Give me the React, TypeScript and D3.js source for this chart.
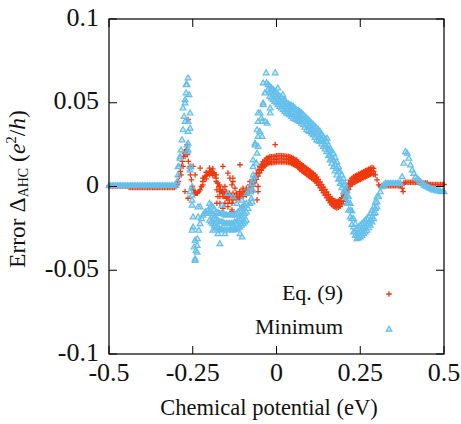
import React from "react";
import * as d3 from "d3";

// ---------- axes ----------
const xTicks = [-0.5, -0.25, 0, 0.25, 0.5];
const xTickLabels = ["-0.5", "-0.25", "0", "0.25", "0.5"];
const yTicks = [-0.1, -0.05, 0, 0.05, 0.1];
const yTickLabels = ["-0.1", "-0.05", "0", "0.05", "0.1"];
const seriesNames = ["Eq. (9)", "Minimum"];

// ---------- Eq. (9) series (red crosses) ----------
const eq9Main: [number, number][] = [
  [-0.5, 0.0004], [-0.495, 0.0004], [-0.49, 0.0004], [-0.485, 0.0004], [-0.48, 0.0004], [-0.475, 0.0004], [-0.47, 0.0004], [-0.465, 0.0004],
  [-0.46, 0.0004], [-0.455, 0.0004], [-0.45, 0.0004], [-0.445, 0.0004], [-0.44, -0.0006], [-0.435, -0.0006], [-0.43, -0.0006], [-0.425, -0.0006],
  [-0.42, -0.0006], [-0.415, -0.0006], [-0.41, -0.0006], [-0.405, -0.0006], [-0.4, -0.0006], [-0.395, -0.0006], [-0.39, -0.0006], [-0.385, -0.0006],
  [-0.38, -0.0006], [-0.375, -0.0006], [-0.37, -0.0006], [-0.365, -0.0006], [-0.36, -0.0006], [-0.355, -0.0006], [-0.35, -0.0006], [-0.345, -0.0006],
  [-0.34, -0.0006], [-0.335, -0.0006], [-0.33, -0.0006], [-0.325, -0.0006], [-0.32, -0.0006], [-0.315, -0.0006], [-0.31, -0.0006], [-0.305, -0.0005],
  [-0.3, 0], [-0.296, 0.001], [-0.293, 0.003], [-0.29, 0.006], [-0.287, 0.009], [-0.284, 0.012], [-0.281, 0.015], [-0.278, 0.018],
  [-0.275, 0.02], [-0.272, 0.021], [-0.269, 0.022], [-0.266, 0.019], [-0.263, 0.015], [-0.26, 0.011], [-0.257, 0.007], [-0.254, 0.004],
  [-0.251, 0.0], [-0.248, -0.002], [-0.244, -0.004], [-0.24, -0.004], [-0.236, -0.004], [-0.232, -0.003], [-0.228, -0.002], [-0.224, 0],
  [-0.22, 0.003], [-0.216, 0.005], [-0.212, 0.006], [-0.208, 0.007], [-0.204, 0.008], [-0.2, 0.009], [-0.196, 0.009], [-0.192, 0.009],
  [-0.188, 0.008], [-0.184, 0.007], [-0.18, 0.005], [-0.176, 0.002], [-0.172, 0], [-0.168, -0.002], [-0.164, -0.003], [-0.16, -0.004],
  [-0.155, -0.005], [-0.15, -0.005], [-0.145, -0.006], [-0.14, -0.006], [-0.135, -0.006], [-0.13, -0.006], [-0.125, -0.006], [-0.12, -0.006],
  [-0.115, -0.006], [-0.11, -0.005], [-0.105, -0.005], [-0.1, -0.004], [-0.095, -0.004], [-0.09, -0.003], [-0.085, -0.002], [-0.08, -0.001],
  [-0.075, 0.001], [-0.07, 0.002], [-0.065, 0.004], [-0.06, 0.006], [-0.055, 0.008], [-0.05, 0.01], [-0.045, 0.012], [-0.04, 0.013],
  [-0.035, 0.014], [-0.03, 0.015], [-0.025, 0.015], [-0.02, 0.016], [-0.015, 0.016], [-0.01, 0.016], [-0.005, 0.016], [0, 0.0165],
  [0.005, 0.0165], [0.01, 0.0165], [0.015, 0.0165], [0.02, 0.0165], [0.025, 0.0165], [0.03, 0.0163], [0.035, 0.0162], [0.04, 0.016],
  [0.045, 0.0155], [0.05, 0.015], [0.055, 0.0145], [0.06, 0.014], [0.065, 0.013], [0.07, 0.012], [0.075, 0.011], [0.08, 0.0105],
  [0.085, 0.0095], [0.09, 0.009], [0.095, 0.008], [0.1, 0.0075], [0.105, 0.007], [0.11, 0.006], [0.115, 0.005], [0.12, 0.004],
  [0.125, 0.0025], [0.13, 0.001], [0.135, -0.0005], [0.14, -0.002], [0.145, -0.0035], [0.15, -0.005], [0.155, -0.0065], [0.16, -0.008],
  [0.165, -0.009], [0.17, -0.01], [0.175, -0.0105], [0.18, -0.011], [0.185, -0.0105], [0.19, -0.01], [0.195, -0.0085], [0.2, -0.007],
  [0.205, -0.0045], [0.21, -0.002], [0.215, 0], [0.22, 0.002], [0.225, 0.003], [0.23, 0.004], [0.235, 0.0045], [0.24, 0.005],
  [0.245, 0.0055], [0.25, 0.006], [0.255, 0.0065], [0.26, 0.007], [0.265, 0.0075], [0.27, 0.008], [0.275, 0.0085], [0.28, 0.009],
  [0.285, 0.0095], [0.29, 0.009], [0.295, 0.007], [0.3, 0.004], [0.305, 0.001], [0.31, 0], [0.315, 0.0005], [0.32, 0.0005],
  [0.325, 0.0005], [0.33, 0.0005], [0.335, 0.0005], [0.34, 0.0005], [0.345, 0.0005], [0.35, 0.0005], [0.355, 0.0005], [0.36, 0.0005],
  [0.365, 0.0005], [0.37, 0.0005], [0.375, 0.001], [0.38, 0.002], [0.385, 0.0025], [0.39, 0.0025], [0.395, 0.0025], [0.4, 0.0025],
  [0.405, 0.0025], [0.41, 0.0025], [0.415, 0.0025], [0.42, 0.0025], [0.425, 0.0025], [0.43, 0.0025], [0.435, 0.002], [0.44, 0.002],
  [0.445, 0.002], [0.45, 0.002], [0.455, 0.0012], [0.46, 0.0012], [0.465, 0.0012], [0.47, 0.0012], [0.475, 0.0012], [0.48, 0.0012],
  [0.485, 0.0012], [0.49, 0.0012], [0.495, 0.0012], [0.5, 0.0012],
];

const eq9Upper: [number, number][] = [
  [-0.22, 0.005], [-0.21, 0.0085], [-0.2, 0.011], [-0.19, 0.0105], [-0.18, 0.007], [-0.17, 0.001], [-0.16, -0.002], [-0.15, -0.003],
  [-0.14, -0.004], [-0.13, -0.004], [-0.12, -0.004], [-0.11, -0.003], [-0.1, -0.002], [-0.09, -0.001], [-0.08, 0.001],
  [-0.07, 0.0038], [-0.06, 0.0078], [-0.05, 0.0118], [-0.04, 0.0148], [-0.03, 0.0168], [-0.02, 0.0178], [-0.01, 0.0178], [0, 0.0183],
  [0.01, 0.0183], [0.02, 0.0183], [0.03, 0.0181], [0.04, 0.0178], [0.05, 0.0168], [0.06, 0.0158], [0.07, 0.0138], [0.08, 0.0123],
  [0.09, 0.0108], [0.1, 0.0093], [0.11, 0.0078], [0.12, 0.0058], [0.13, 0.0028], [0.14, -0.0002], [0.15, -0.0032], [0.16, -0.0062],
  [0.17, -0.0082], [0.18, -0.0092], [0.19, -0.0082], [0.2, -0.0052], [0.21, -0.0002], [0.22, 0.0038], [0.23, 0.0058], [0.24, 0.0068],
  [0.25, 0.0078], [0.26, 0.0088], [0.27, 0.0098], [0.28, 0.0108], [0.29, 0.0108],
  [-0.065, 0.0058], [-0.055, 0.0098], [-0.045, 0.0133], [-0.035, 0.0158], [-0.025, 0.0173], [-0.015, 0.0178], [-0.005, 0.018], [0.005, 0.0183],
  [0.015, 0.0183], [0.025, 0.0182], [0.035, 0.018], [0.045, 0.0173], [0.055, 0.0163], [0.065, 0.0148], [0.075, 0.013], [0.085, 0.0115],
  [0.095, 0.01], [0.105, 0.0085], [0.115, 0.0068], [0.125, 0.0043], [0.135, 0.0013], [0.145, -0.0017], [0.155, -0.0047], [0.165, -0.0072],
  [0.175, -0.0087], [0.185, -0.0087], [0.195, -0.0067], [0.205, -0.0027], [0.215, 0.0018], [0.225, 0.0048], [0.235, 0.0063], [0.245, 0.0073],
  [0.255, 0.0083], [0.265, 0.0093], [0.275, 0.0103], [0.285, 0.0113],
];
const eq9Lower: [number, number][] = [
  [-0.22, 0.001], [-0.21, 0.0045], [-0.2, 0.007], [-0.19, 0.0065], [-0.18, 0.003], [-0.17, -0.003], [-0.16, -0.006], [-0.15, -0.007],
  [-0.14, -0.008], [-0.13, -0.008], [-0.12, -0.008], [-0.11, -0.007], [-0.1, -0.006], [-0.09, -0.005], [-0.08, -0.003],
  [-0.07, 0.0002], [-0.06, 0.0042], [-0.05, 0.0082], [-0.04, 0.0112], [-0.03, 0.0132], [-0.02, 0.0142], [-0.01, 0.0142], [0, 0.0147],
  [0.01, 0.0147], [0.02, 0.0147], [0.03, 0.0145], [0.04, 0.0142], [0.05, 0.0132], [0.06, 0.0122], [0.07, 0.0102], [0.08, 0.0087],
  [0.09, 0.0072], [0.1, 0.0057], [0.11, 0.0042], [0.12, 0.0022], [0.13, -0.0008], [0.14, -0.0038], [0.15, -0.0068], [0.16, -0.0098],
  [0.17, -0.0118], [0.18, -0.0128], [0.19, -0.0118], [0.2, -0.0088], [0.21, -0.0038], [0.22, 0.0002], [0.23, 0.0022], [0.24, 0.0032],
  [0.25, 0.0042], [0.26, 0.0052], [0.27, 0.0062], [0.28, 0.0072], [0.29, 0.0072],
  [-0.065, 0.0022], [-0.055, 0.0062], [-0.045, 0.0097], [-0.035, 0.0122], [-0.025, 0.0137], [-0.015, 0.0142], [-0.005, 0.0144], [0.005, 0.0147],
  [0.015, 0.0147], [0.025, 0.0146], [0.035, 0.0144], [0.045, 0.0137], [0.055, 0.0127], [0.065, 0.0112], [0.075, 0.0094], [0.085, 0.0079],
  [0.095, 0.0064], [0.105, 0.0049], [0.115, 0.0032], [0.125, 0.0007], [0.135, -0.0023], [0.145, -0.0053], [0.155, -0.0083], [0.165, -0.0108],
  [0.175, -0.0123], [0.185, -0.0123], [0.195, -0.0103], [0.205, -0.0063], [0.215, -0.0018], [0.225, 0.0012], [0.235, 0.0027], [0.245, 0.0037],
  [0.255, 0.0047], [0.265, 0.0057], [0.275, 0.0067], [0.285, 0.0077],
];

const eq9Scatter: [number, number][] = [
  [-0.264, 0.04], [-0.267, 0.025], [-0.273, 0.018], [-0.279, 0.012], [-0.258, 0.012], [-0.249, 0.012], [-0.228, 0.011], [-0.16, 0.012],
  [-0.109, 0.013], [-0.139, 0.005], [-0.133, 0.001], [-0.169, -0.006], [-0.178, -0.01], [-0.145, -0.01], [-0.16, -0.013], [-0.133, -0.014],
  [-0.273, -0.003], [-0.264, -0.007], [-0.178, -0.002], [-0.175, -0.006], [-0.169, -0.01], [-0.103, -0.012], [-0.133, -0.01], [-0.145, -0.012],
  [-0.133, -0.015], [-0.154, -0.01], [-0.145, 0.008], [-0.13, 0.005], [-0.13, 0.003], [-0.154, 0.0], [-0.124, -0.001], [-0.1, -0.001],
  [-0.07, -0.003], [-0.055, 0.0], [-0.004, 0.025], [-0.055, -0.003], [-0.058, -0.008], [-0.079, 0.003], [0.378, -0.003], [0.375, -0.001],
  [-0.285, 0.007], [-0.243, 0.007],
];

// ---------- Minimum series (blue triangles) ----------
const minimumMain: [number, number][] = [
  [-0.5, 0.0006], [-0.495, 0.0006], [-0.49, 0.0006], [-0.485, 0.0006], [-0.48, 0.0006], [-0.475, 0.0006], [-0.47, 0.0006], [-0.465, 0.0006],
  [-0.46, 0.0006], [-0.455, 0.0006], [-0.45, 0.0006], [-0.445, 0.0006], [-0.44, 0.0006], [-0.435, 0.0006], [-0.43, 0.0006], [-0.425, 0.0006],
  [-0.42, 0.0006], [-0.415, 0.0006], [-0.41, 0.0006], [-0.405, 0.0006], [-0.4, 0.0006], [-0.395, 0.0006], [-0.39, 0.0006], [-0.385, 0.0006],
  [-0.38, 0.0006], [-0.375, 0.0006], [-0.37, 0.0006], [-0.365, 0.0006], [-0.36, 0.0006], [-0.355, 0.0006], [-0.35, 0.0006], [-0.345, 0.0006],
  [-0.34, 0.0006], [-0.335, 0.0006], [-0.33, 0.0006], [-0.325, 0.0006], [-0.32, 0.0006], [-0.315, 0.0006], [-0.31, 0.0006], [-0.305, 0.0006],
  [-0.3, 0.001], [-0.297, 0.003], [-0.294, 0.007], [-0.291, 0.012], [-0.288, 0.017], [-0.285, 0.022], [-0.282, 0.028], [-0.279, 0.034],
  [-0.276, 0.042], [-0.273, 0.05], [-0.27, 0.056], [-0.267, 0.061], [-0.264, 0.065], [-0.261, 0.055], [-0.258, 0.035], [-0.255, 0.012],
  [-0.252, -0.008], [-0.249, -0.024], [-0.246, -0.036], [-0.243, -0.043], [-0.24, -0.038], [-0.236, -0.031], [-0.232, -0.026], [-0.228, -0.022],
  [-0.224, -0.019], [-0.22, -0.017], [-0.215, -0.016], [-0.21, -0.015], [-0.205, -0.0145], [-0.2, -0.015], [-0.195, -0.016], [-0.19, -0.017],
  [-0.185, -0.018], [-0.18, -0.019], [-0.175, -0.02], [-0.17, -0.021], [-0.165, -0.021], [-0.16, -0.021], [-0.155, -0.022], [-0.15, -0.022],
  [-0.145, -0.022], [-0.14, -0.022], [-0.135, -0.022], [-0.13, -0.022], [-0.125, -0.021], [-0.12, -0.021], [-0.115, -0.02], [-0.11, -0.019],
  [-0.105, -0.018], [-0.1, -0.017], [-0.095, -0.016], [-0.09, -0.015], [-0.085, -0.013], [-0.08, -0.01], [-0.075, -0.007], [-0.07, -0.002],
  [-0.065, 0.006], [-0.06, 0.014], [-0.055, 0.024], [-0.05, 0.033], [-0.045, 0.041], [-0.04, 0.049], [-0.035, 0.056], [-0.03, 0.062],
  [-0.025, 0.058], [-0.02, 0.057], [-0.015, 0.056], [-0.01, 0.055], [-0.005, 0.054], [0, 0.053], [0.005, 0.052], [0.01, 0.051],
  [0.015, 0.05], [0.02, 0.049], [0.025, 0.048], [0.03, 0.047], [0.035, 0.0465], [0.04, 0.046], [0.045, 0.045], [0.05, 0.0445],
  [0.055, 0.0435], [0.06, 0.043], [0.065, 0.0425], [0.07, 0.042], [0.075, 0.041], [0.08, 0.04], [0.085, 0.039], [0.09, 0.0375],
  [0.095, 0.0365], [0.1, 0.036], [0.105, 0.035], [0.11, 0.034], [0.115, 0.0325], [0.12, 0.0315], [0.125, 0.031], [0.13, 0.03],
  [0.135, 0.028], [0.14, 0.027], [0.145, 0.025], [0.15, 0.024], [0.155, 0.022], [0.16, 0.019], [0.165, 0.017], [0.17, 0.016],
  [0.175, 0.013], [0.18, 0.011], [0.185, 0.009], [0.19, 0.005], [0.195, 0.003], [0.2, 0.001], [0.205, -0.003], [0.21, -0.006],
  [0.215, -0.01], [0.22, -0.014], [0.225, -0.019], [0.23, -0.024], [0.235, -0.027], [0.24, -0.029], [0.245, -0.028], [0.25, -0.027],
  [0.255, -0.026], [0.26, -0.025], [0.265, -0.024], [0.27, -0.023], [0.275, -0.022], [0.28, -0.02], [0.285, -0.018], [0.29, -0.016],
  [0.295, -0.013], [0.3, -0.009], [0.305, -0.006], [0.31, -0.003], [0.315, 0.0], [0.32, 0.001], [0.325, 0.002], [0.33, 0.002],
  [0.335, 0.002], [0.34, 0.002], [0.345, 0.002], [0.35, 0.002], [0.355, 0.002], [0.36, 0.002], [0.365, 0.002], [0.37, 0.002],
  [0.375, 0.006], [0.38, 0.014], [0.385, 0.021], [0.39, 0.02], [0.395, 0.017], [0.4, 0.013], [0.405, 0.01], [0.41, 0.008],
  [0.415, 0.006], [0.42, 0.005], [0.425, 0.004], [0.43, 0.003], [0.435, 0.002], [0.44, 0.001], [0.445, 0.0005], [0.45, 0],
  [0.455, -0.0005], [0.46, -0.001], [0.465, -0.0015], [0.47, -0.002], [0.475, -0.002], [0.48, -0.0025], [0.485, -0.0025], [0.49, -0.003],
  [0.495, -0.003], [0.5, -0.003],
];

const minimumUpper: [number, number][] = [
  [-0.2, -0.01], [-0.19, -0.012], [-0.18, -0.015], [-0.17, -0.016], [-0.16, -0.016], [-0.15, -0.017], [-0.14, -0.017], [-0.13, -0.017],
  [-0.12, -0.016], [-0.11, -0.014], [-0.1, -0.012], [-0.09, -0.01],
  [-0.195, -0.011], [-0.185, -0.0135], [-0.175, -0.0155], [-0.165, -0.016], [-0.155, -0.0165], [-0.145, -0.017], [-0.135, -0.017], [-0.125, -0.0165],
  [-0.115, -0.015], [-0.105, -0.013], [-0.095, -0.011],
  [-0.02, 0.06], [-0.01, 0.058], [0, 0.056], [0.01, 0.054], [0.02, 0.052], [0.03, 0.05], [0.04, 0.049], [0.05, 0.048],
  [0.06, 0.046], [0.07, 0.045], [0.08, 0.043], [0.09, 0.041], [0.1, 0.039], [0.11, 0.037], [0.12, 0.035], [0.13, 0.033],
  [0.14, 0.03], [0.15, 0.027], [0.16, 0.023], [0.17, 0.02], [0.18, 0.015], [0.19, 0.009], [0.2, 0.005], [0.21, -0.002],
  [0.22, -0.01], [0.23, -0.019], [0.24, -0.025], [0.25, -0.023], [0.26, -0.021], [0.27, -0.019], [0.28, -0.016], [0.29, -0.012],
  [0.3, -0.006],
  [-0.015, 0.059], [-0.005, 0.057], [0.005, 0.055], [0.015, 0.053], [0.025, 0.051], [0.035, 0.0495], [0.045, 0.0485], [0.055, 0.047],
  [0.065, 0.0455], [0.075, 0.044], [0.085, 0.042], [0.095, 0.04], [0.105, 0.038], [0.115, 0.036], [0.125, 0.034], [0.135, 0.0315],
  [0.145, 0.0285], [0.155, 0.025], [0.165, 0.0215], [0.175, 0.0175], [0.185, 0.012], [0.195, 0.007], [0.205, 0.0015], [0.215, -0.006],
  [0.225, -0.0145], [0.235, -0.022], [0.245, -0.024], [0.255, -0.022], [0.265, -0.02], [0.275, -0.0175], [0.285, -0.014], [0.295, -0.009],
];
const minimumLower: [number, number][] = [
  [-0.2, -0.02], [-0.19, -0.022], [-0.18, -0.024], [-0.17, -0.025], [-0.16, -0.026], [-0.15, -0.026], [-0.14, -0.026], [-0.13, -0.026],
  [-0.12, -0.025], [-0.11, -0.024], [-0.1, -0.022], [-0.09, -0.02],
  [-0.195, -0.021], [-0.185, -0.023], [-0.175, -0.0245], [-0.165, -0.0255], [-0.155, -0.026], [-0.145, -0.026], [-0.135, -0.026], [-0.125, -0.0255],
  [-0.115, -0.0245], [-0.105, -0.023], [-0.095, -0.021],
  [-0.02, 0.054], [-0.01, 0.052], [0, 0.05], [0.01, 0.048], [0.02, 0.046], [0.03, 0.044], [0.04, 0.043], [0.05, 0.041],
  [0.06, 0.04], [0.07, 0.039], [0.08, 0.037], [0.09, 0.034], [0.1, 0.033], [0.11, 0.031], [0.12, 0.028], [0.13, 0.027],
  [0.14, 0.024], [0.15, 0.021], [0.16, 0.016], [0.17, 0.012], [0.18, 0.007], [0.19, 0.002], [0.2, -0.003], [0.21, -0.01],
  [0.22, -0.018], [0.23, -0.027], [0.24, -0.031], [0.25, -0.03], [0.26, -0.028], [0.27, -0.026], [0.28, -0.023], [0.29, -0.019],
  [0.3, -0.012],
  [-0.015, 0.053], [-0.005, 0.051], [0.005, 0.049], [0.015, 0.047], [0.025, 0.045], [0.035, 0.0435], [0.045, 0.042], [0.055, 0.0405],
  [0.065, 0.0395], [0.075, 0.038], [0.085, 0.0355], [0.095, 0.0335], [0.105, 0.032], [0.115, 0.0295], [0.125, 0.0275], [0.135, 0.0255],
  [0.145, 0.0225], [0.155, 0.0185], [0.165, 0.014], [0.175, 0.0095], [0.185, 0.0045], [0.195, -0.0005], [0.205, -0.0065], [0.215, -0.014],
  [0.225, -0.0225], [0.235, -0.029], [0.245, -0.0305], [0.255, -0.029], [0.265, -0.027], [0.275, -0.0245], [0.285, -0.021], [0.295, -0.0155],
];

const minimumScatter: [number, number][] = [
  [-0.264, 0.065], [-0.27, 0.061], [-0.273, 0.052], [-0.279, 0.047], [-0.273, 0.039], [-0.264, 0.039], [-0.279, 0.034], [-0.264, 0.033],
  [-0.282, 0.028], [-0.267, 0.025], [-0.264, 0.022], [-0.294, 0.012], [-0.258, 0.044], [-0.264, 0.026], [-0.267, 0.021], [-0.258, 0.01],
  [-0.252, 0.0], [-0.258, -0.003], [-0.252, -0.011], [-0.249, -0.018], [-0.249, -0.024], [-0.243, -0.032], [-0.237, -0.039], [-0.243, -0.044],
  [-0.252, -0.026], [-0.237, -0.035], [-0.234, -0.018], [-0.234, -0.012], [-0.252, -0.005], [-0.288, 0.018], [-0.285, 0.022],
  [-0.175, -0.028], [-0.169, -0.034], [-0.184, -0.026], [-0.154, -0.028], [-0.133, -0.024], [-0.103, -0.03], [-0.109, -0.028], [-0.19, -0.026],
  [-0.228, -0.012], [-0.204, -0.014], [-0.213, -0.015],
  [-0.145, -0.004], [-0.13, -0.006], [-0.103, -0.008], [-0.088, -0.004], [-0.079, 0.0], [-0.07, 0.004], [-0.073, -0.009], [-0.118, -0.01],
  [-0.163, -0.011],
  [-0.031, 0.068], [-0.004, 0.068], [-0.04, 0.062], [-0.025, 0.061], [-0.034, 0.056], [-0.04, 0.05], [-0.019, 0.047], [-0.049, 0.044],
  [-0.043, 0.039], [-0.028, 0.038], [-0.058, 0.034], [-0.043, 0.03], [-0.064, 0.025], [-0.058, 0.02], [-0.07, 0.016], [0.019, 0.055],
  [0.016, 0.05], [-0.019, 0.044], [-0.055, 0.044], [-0.055, 0.039], [-0.034, 0.039], [-0.055, 0.03], [-0.064, 0.026], [-0.07, 0.012],
  [-0.07, 0.007], [-0.073, 0.002], [-0.079, -0.003], [-0.013, 0.058], [0.004, 0.059], [0.025, 0.052], [0.04, 0.049], [0.151, 0.029],
];

// ---------- layout ----------
const W = 461;
const H = 424;
const plot = { left: 109, right: 444, top: 19, bottom: 354 };
const RED = "#f0380f";
const BLUE = "#64bfeb";
const FONT = "'Liberation Serif', 'Times New Roman', serif";

const crossPath = (cx: number, cy: number) => {
  const s = 2.8;
  return `M${cx - s},${cy}H${cx + s}M${cx},${cy - s}V${cy + s}`;
};
const triPath = (cx: number, cy: number) =>
  `M${cx - 2.9},${cy + 2.2}L${cx + 2.9},${cy + 2.2}L${cx},${cy - 2.8}Z`;

export default function App() {
  const x = d3.scaleLinear().domain([-0.5, 0.5]).range([plot.left, plot.right]);
  const y = d3.scaleLinear().domain([-0.1, 0.1]).range([plot.bottom, plot.top]);

  const redPts = [...eq9Main, ...eq9Upper, ...eq9Lower, ...eq9Scatter];
  const bluePts = [...minimumMain, ...minimumUpper, ...minimumLower, ...minimumScatter];
  const redD = redPts.map(([a, b]) => crossPath(x(a), y(b))).join("");
  const blueD = bluePts.map(([a, b]) => triPath(x(a), y(b))).join("");

  const tickLen = 8;

  return (
    <svg width={W} height={H} viewBox={`0 0 ${W} ${H}`} style={{ display: "block", position: "absolute", left: 0, top: 0 }}>
      <rect x={0} y={0} width={W} height={H} fill="#fff" />
      {/* points */}
      <path d={redD} stroke={RED} strokeWidth={1.3} fill="none" />
      <path d={blueD} stroke={BLUE} strokeWidth={1.2} fill={BLUE} fillOpacity={0.35} />

      {/* frame */}
      <rect x={plot.left} y={plot.top} width={plot.right - plot.left} height={plot.bottom - plot.top}
        fill="none" stroke="#000" strokeWidth={1.2} />
      {/* ticks */}
      {xTicks.map((t, i) => (
        <g key={"xt" + i}>
          <line x1={x(t)} x2={x(t)} y1={plot.bottom} y2={plot.bottom - tickLen} stroke="#000" strokeWidth={1} />
          <line x1={x(t)} x2={x(t)} y1={plot.top} y2={plot.top + tickLen} stroke="#000" strokeWidth={1} />
          <text x={x(t)} y={381} textAnchor="middle" fontFamily={FONT} fontSize={26} fill="#111">{xTickLabels[i]}</text>
        </g>
      ))}
      {yTicks.map((t, i) => (
        <g key={"yt" + i}>
          <line x1={plot.left} x2={plot.left + tickLen} y1={y(t)} y2={y(t)} stroke="#000" strokeWidth={1} />
          <line x1={plot.right} x2={plot.right - tickLen} y1={y(t)} y2={y(t)} stroke="#000" strokeWidth={1} />
          <text x={99} y={y(t) + 6.5} textAnchor="end" fontFamily={FONT} fontSize={26} fill="#111">{yTickLabels[i]}</text>
        </g>
      ))}

      {/* axis titles */}
      <text x={269} y={415} textAnchor="middle" fontFamily={FONT} fontSize={22.5} fill="#111">Chemical potential (eV)</text>
      <text transform="rotate(-90)" x={-189} y={25} textAnchor="middle" fontFamily={FONT} fontSize={23.5} fill="#111">
        Error Δ<tspan fontSize={14} dy={3}>AHC</tspan>
        <tspan dy={-3}> (</tspan>
        <tspan fontStyle="italic">e</tspan>
        <tspan fontSize={15} dy={-9}>2</tspan>
        <tspan dy={9}>/</tspan>
        <tspan fontStyle="italic">h</tspan>
        <tspan>)</tspan>
      </text>

      {/* legend */}
      <text x={343} y={300} textAnchor="end" fontFamily={FONT} fontSize={22} fill="#111">{seriesNames[0]}</text>
      <path d={crossPath(389, 294)} stroke={RED} strokeWidth={1.3} fill="none" />
      <text x={343} y={334} textAnchor="end" fontFamily={FONT} fontSize={22} fill="#111">{seriesNames[1]}</text>
      <path d={triPath(389, 329)} stroke={BLUE} strokeWidth={1.2} fill={BLUE} fillOpacity={0.35} />
    </svg>
  );
}
